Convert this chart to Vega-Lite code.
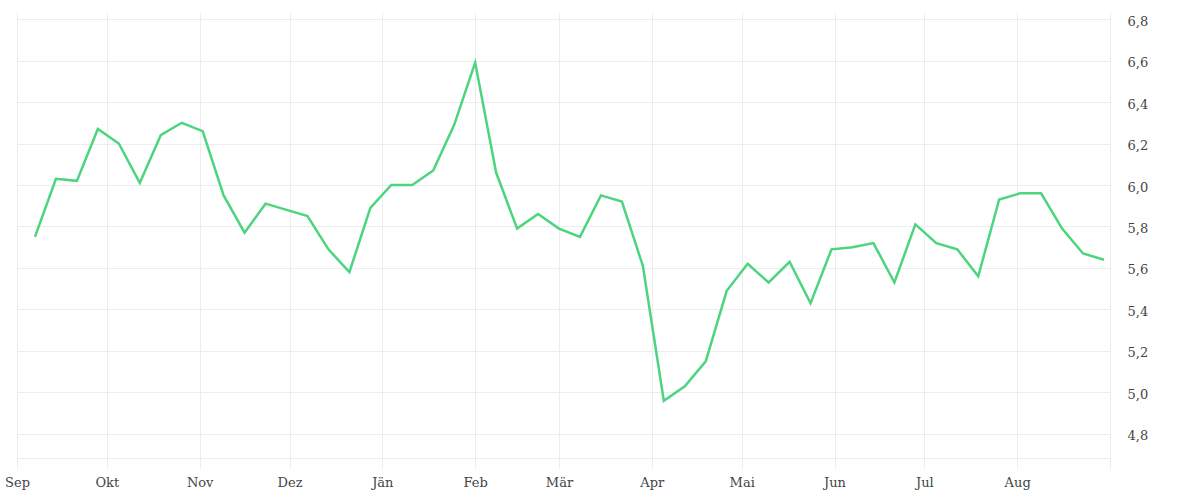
{
  "$schema": "https://vega.github.io/schema/vega-lite/v6.json",
  "width": 1093,
  "height": 446,
  "autosize": {"type": "none"},
  "padding": {"left": 17, "top": 12, "right": 90, "bottom": 42},
  "background": "white",
  "config": {"view": {"stroke": null}},
  "data": {"values": [
    {"date": "2024-09-07", "value": 5.75},
    {"date": "2024-09-14", "value": 6.03},
    {"date": "2024-09-21", "value": 6.02},
    {"date": "2024-09-28", "value": 6.27},
    {"date": "2024-10-05", "value": 6.20},
    {"date": "2024-10-12", "value": 6.01},
    {"date": "2024-10-19", "value": 6.24},
    {"date": "2024-10-26", "value": 6.30},
    {"date": "2024-11-02", "value": 6.26},
    {"date": "2024-11-09", "value": 5.95},
    {"date": "2024-11-16", "value": 5.77},
    {"date": "2024-11-23", "value": 5.91},
    {"date": "2024-11-30", "value": 5.88},
    {"date": "2024-12-07", "value": 5.85},
    {"date": "2024-12-14", "value": 5.69},
    {"date": "2024-12-21", "value": 5.58},
    {"date": "2024-12-28", "value": 5.89},
    {"date": "2025-01-04", "value": 6.00},
    {"date": "2025-01-11", "value": 6.00},
    {"date": "2025-01-18", "value": 6.07},
    {"date": "2025-01-25", "value": 6.29},
    {"date": "2025-02-01", "value": 6.59},
    {"date": "2025-02-08", "value": 6.06},
    {"date": "2025-02-15", "value": 5.79},
    {"date": "2025-02-22", "value": 5.86},
    {"date": "2025-03-01", "value": 5.79},
    {"date": "2025-03-08", "value": 5.75},
    {"date": "2025-03-15", "value": 5.95},
    {"date": "2025-03-22", "value": 5.92},
    {"date": "2025-03-29", "value": 5.61},
    {"date": "2025-04-05", "value": 4.96},
    {"date": "2025-04-12", "value": 5.03},
    {"date": "2025-04-19", "value": 5.15},
    {"date": "2025-04-26", "value": 5.49},
    {"date": "2025-05-03", "value": 5.62},
    {"date": "2025-05-10", "value": 5.53},
    {"date": "2025-05-17", "value": 5.63},
    {"date": "2025-05-24", "value": 5.43},
    {"date": "2025-05-31", "value": 5.69},
    {"date": "2025-06-07", "value": 5.70},
    {"date": "2025-06-14", "value": 5.72},
    {"date": "2025-06-21", "value": 5.53},
    {"date": "2025-06-28", "value": 5.81},
    {"date": "2025-07-05", "value": 5.72},
    {"date": "2025-07-12", "value": 5.69},
    {"date": "2025-07-19", "value": 5.56},
    {"date": "2025-07-26", "value": 5.93},
    {"date": "2025-08-02", "value": 5.96},
    {"date": "2025-08-09", "value": 5.96},
    {"date": "2025-08-16", "value": 5.79},
    {"date": "2025-08-23", "value": 5.67},
    {"date": "2025-08-30", "value": 5.64}
  ]},
  "mark": {"type": "line", "color": "#4cd47e", "strokeWidth": 2.5, "strokeJoin": "miter"},
  "encoding": {
    "x": {
      "field": "date",
      "type": "temporal",
      "scale": {
        "type": "utc",
        "domain": [
          {"year": 2024, "month": 9, "date": 1, "utc": true},
          {"year": 2025, "month": 9, "date": 1, "utc": true}
        ]
      },
      "axis": {
        "title": null,
        "tickCount": {"interval": "month", "step": 1},
        "grid": true,
        "gridColor": "#ededed",
        "tickColor": "#ededed",
        "tickSize": 10,
        "domainColor": "#ededed",
        "labelFont": "DejaVu Serif",
        "labelFontSize": 13,
        "labelColor": "#444444",
        "labelPadding": 8,
        "labelFlush": false,
        "labelOverlap": false,
        "labelExpr": "utcyear(datum.value) == 2025 && utcmonth(datum.value) == 8 ? '' : ['Jän','Feb','Mär','Apr','Mai','Jun','Jul','Aug','Sep','Okt','Nov','Dez'][utcmonth(datum.value)]"
      }
    },
    "y": {
      "field": "value",
      "type": "quantitative",
      "scale": {"domain": [4.684, 6.834], "nice": false, "zero": false},
      "axis": {
        "title": null,
        "orient": "right",
        "values": [4.8, 5.0, 5.2, 5.4, 5.6, 5.8, 6.0, 6.2, 6.4, 6.6, 6.8],
        "grid": true,
        "gridColor": "#ededed",
        "domain": false,
        "ticks": false,
        "labelPadding": 17,
        "labelOffset": 2,
        "labelFont": "DejaVu Serif",
        "labelFontSize": 13,
        "labelColor": "#444444",
        "labelExpr": "replace(format(datum.value, '.1f'), '.', ',')"
      }
    }
  }
}
